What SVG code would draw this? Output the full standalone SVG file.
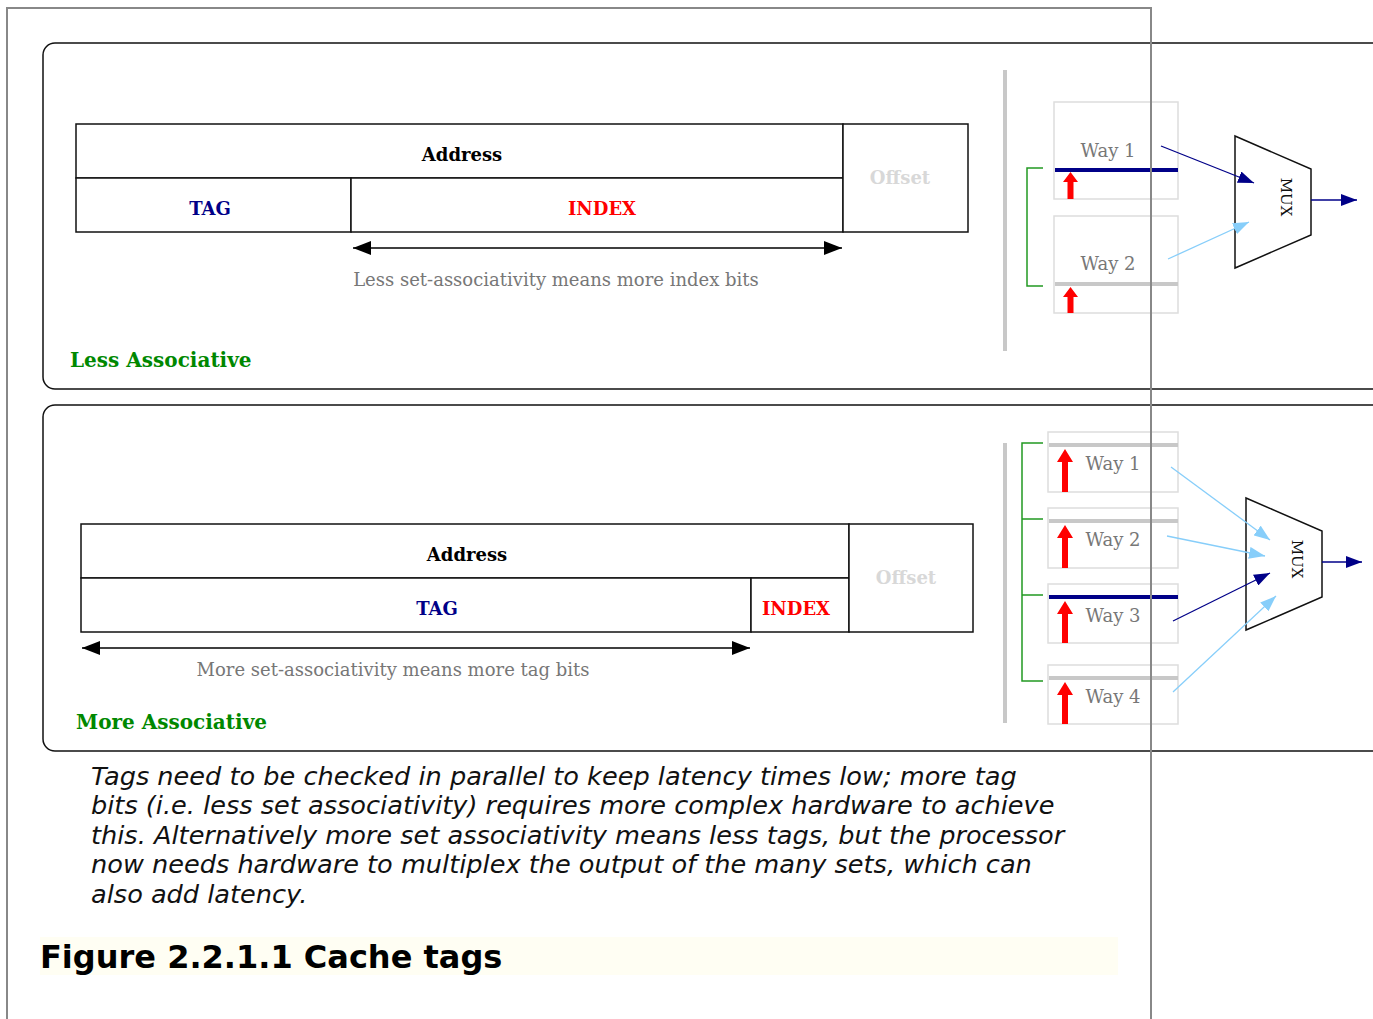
<svg xmlns="http://www.w3.org/2000/svg" width="1373" height="1019" viewBox="0 0 1373 1019">
<defs>
<marker id="ahN" viewBox="0 0 16 12" refX="16" refY="6" markerWidth="16" markerHeight="12" orient="auto" markerUnits="userSpaceOnUse"><path d="M0,0L16,6L0,12z" fill="#000088"/></marker>
<marker id="ahL" viewBox="0 0 16 12" refX="16" refY="6" markerWidth="16" markerHeight="12" orient="auto" markerUnits="userSpaceOnUse"><path d="M0,0L16,6L0,12z" fill="#87cefa"/></marker>
<marker id="ahK" viewBox="0 0 18 14" refX="18" refY="7" markerWidth="18" markerHeight="14" orient="auto-start-reverse" markerUnits="userSpaceOnUse"><path d="M0,0L18,7L0,14z" fill="#000"/></marker>
</defs>
<style>
.panel{fill:#fff;stroke:#111;stroke-width:1.5}
.cell{fill:#fff;stroke:#111;stroke-width:1.5}
.hdr{font-family:"DejaVu Serif",serif;font-weight:bold;font-size:18px;fill:#000;text-anchor:middle}
.tag{font-family:"DejaVu Serif",serif;font-weight:bold;font-size:18px;fill:#000088;text-anchor:middle}
.idx{font-family:"DejaVu Serif",serif;font-weight:bold;font-size:18px;fill:#ff0000;text-anchor:middle}
.off{font-family:"DejaVu Serif",serif;font-weight:bold;font-size:18px;fill:#d8d8d8;text-anchor:middle}
.note{font-family:"DejaVu Serif",serif;font-size:18px;fill:#777;text-anchor:middle}
.ttl{font-family:"DejaVu Serif",serif;font-weight:bold;font-size:20px;fill:#008800}
.way{fill:#fff;stroke:#ddd;stroke-width:1.5}
.wt{font-family:"DejaVu Serif",serif;font-size:18px;fill:#777;text-anchor:middle}
.bar{fill:#c8c8c8}
.brk{fill:none;stroke:#229922;stroke-width:1.5}
.mux{fill:#fff;stroke:#111;stroke-width:1.5}
.mt{font-family:"DejaVu Serif",serif;font-size:15px;fill:#111;text-anchor:middle}
.red{fill:#ff0000}
.cap{font-family:"DejaVu Sans",sans-serif;font-style:italic;font-size:25.6px;fill:#111}
</style>
<rect width="1373" height="1019" fill="#fff"/>

<g id="panel-less">
<rect class="panel" x="43" y="43" width="1400" height="346" rx="12"/>
<text class="ttl" x="70" y="367">Less Associative</text>
</g>
<g id="addr-less">
<rect class="cell" x="76" y="124" width="767" height="54"/>
<rect class="cell" x="76" y="178" width="275" height="54"/>
<rect class="cell" x="351" y="178" width="492" height="54"/>
<rect class="cell" x="843" y="124" width="125" height="108"/>
<text class="hdr" x="462" y="161">Address</text>
<text class="tag" x="210" y="215">TAG</text>
<text class="idx" x="602" y="215">INDEX</text>
<text class="off" x="900" y="184">Offset</text>
<text class="note" x="556" y="286">Less set-associativity means more index bits</text>
</g>
<g id="ways-less">
<rect x="1003" y="70" width="4" height="281" fill="#c8c8c8"/>
<path class="brk" d="M1043,168H1027V286H1043"/>
<rect class="way" x="1054" y="102" width="124" height="97"/>
<text class="wt" x="1108" y="157">Way 1</text>
<rect x="1055" y="168" width="123" height="4" fill="#000088"/>
<path class="red" d="M1067.5,199V182H1063L1070.5,172L1078,182H1073.5V199z"/>
<rect class="way" x="1054" y="216" width="124" height="97"/>
<text class="wt" x="1108" y="270">Way 2</text>
<rect class="bar" x="1055" y="282" width="123" height="4"/>
<path class="red" d="M1067.5,313V297H1063L1070.5,287L1078,297H1073.5V313z"/>
</g>
<g id="mux-less">
<path class="mux" d="M1235,136L1311,169V235L1235,268z"/>
<text class="mt" transform="translate(1281,197) rotate(90)">MUX</text>
</g>

<g id="panel-more">
<rect class="panel" x="43" y="405" width="1400" height="346" rx="12"/>
<text class="ttl" x="76" y="729">More Associative</text>
</g>
<g id="addr-more">
<rect class="cell" x="81" y="524" width="768" height="54"/>
<rect class="cell" x="81" y="578" width="670" height="54"/>
<rect class="cell" x="751" y="578" width="98" height="54"/>
<rect class="cell" x="849" y="524" width="124" height="108"/>
<text class="hdr" x="467" y="561">Address</text>
<text class="tag" x="437" y="615">TAG</text>
<text class="idx" x="796" y="615">INDEX</text>
<text class="off" x="906" y="584">Offset</text>
<text class="note" x="393" y="676">More set-associativity means more tag bits</text>
</g>
<g id="ways-more">
<rect x="1003" y="443" width="4" height="280" fill="#c8c8c8"/>
<path class="brk" d="M1043,443H1022V681H1043M1022,519H1043M1022,595H1043"/>
<rect class="way" x="1048" y="432" width="130" height="60"/>
<rect class="bar" x="1049" y="443" width="129" height="4"/>
<path class="red" d="M1062,492V462H1057L1065,449L1073,462H1068V492z"/>
<text class="wt" x="1113" y="470">Way 1</text>
<rect class="way" x="1048" y="508" width="130" height="60"/>
<rect class="bar" x="1049" y="519" width="129" height="4"/>
<path class="red" d="M1062,568V538H1057L1065,525L1073,538H1068V568z"/>
<text class="wt" x="1113" y="546">Way 2</text>
<rect class="way" x="1048" y="584" width="130" height="59"/>
<rect x="1049" y="595" width="129" height="4" fill="#000088"/>
<path class="red" d="M1062,643V614H1057L1065,601L1073,614H1068V643z"/>
<text class="wt" x="1113" y="622">Way 3</text>
<rect class="way" x="1048" y="665" width="130" height="59"/>
<rect class="bar" x="1049" y="676" width="129" height="4"/>
<path class="red" d="M1062,724V695H1057L1065,682L1073,695H1068V724z"/>
<text class="wt" x="1113" y="703">Way 4</text>
</g>
<g id="mux-more">
<path class="mux" d="M1246,498L1322,531V597L1246,630z"/>
<text class="mt" transform="translate(1292,559) rotate(90)">MUX</text>
</g>

<g id="connectors">
<line x1="353" y1="248" x2="842" y2="248" stroke="#000" stroke-width="1.5" marker-start="url(#ahK)" marker-end="url(#ahK)"/>
<line x1="82" y1="648" x2="750" y2="648" stroke="#000" stroke-width="1.5" marker-start="url(#ahK)" marker-end="url(#ahK)"/>
<line x1="1161" y1="146" x2="1254" y2="183" stroke="#000088" stroke-width="1.3" marker-end="url(#ahN)"/>
<line x1="1168" y1="259" x2="1249" y2="222" stroke="#87cefa" stroke-width="1.3" marker-end="url(#ahL)"/>
<line x1="1311" y1="200" x2="1357" y2="200" stroke="#000088" stroke-width="1.3" marker-end="url(#ahN)"/>
<line x1="1171" y1="467" x2="1270" y2="540" stroke="#87cefa" stroke-width="1.3" marker-end="url(#ahL)"/>
<line x1="1167" y1="536" x2="1265" y2="556" stroke="#87cefa" stroke-width="1.3" marker-end="url(#ahL)"/>
<line x1="1173" y1="621" x2="1270" y2="573" stroke="#000088" stroke-width="1.3" marker-end="url(#ahN)"/>
<line x1="1173" y1="692" x2="1276" y2="596" stroke="#87cefa" stroke-width="1.3" marker-end="url(#ahL)"/>
<line x1="1322" y1="562" x2="1362" y2="562" stroke="#000088" stroke-width="1.3" marker-end="url(#ahN)"/>
</g>

<g id="caption">
<text class="cap" x="91" y="785">Tags need to be checked in parallel to keep latency times low; more tag</text>
<text class="cap" x="91" y="814">bits (i.e. less set associativity) requires more complex hardware to achieve</text>
<text class="cap" x="91" y="844">this. Alternatively more set associativity means less tags, but the processor</text>
<text class="cap" x="91" y="873">now needs hardware to multiplex the output of the many sets, which can</text>
<text class="cap" x="91" y="903">also add latency.</text>
</g>
<g id="figure-title">
<rect x="40" y="937" width="1078" height="38" fill="#fffef3"/>
<text x="40" y="968" font-family="DejaVu Sans, sans-serif" font-weight="bold" font-size="32" fill="#000">Figure 2.2.1.1 Cache tags</text>
</g>
<g id="frame">
<path d="M7,1030V8H1151V1030" fill="none" stroke="#888" stroke-width="2"/>
</g>
</svg>
